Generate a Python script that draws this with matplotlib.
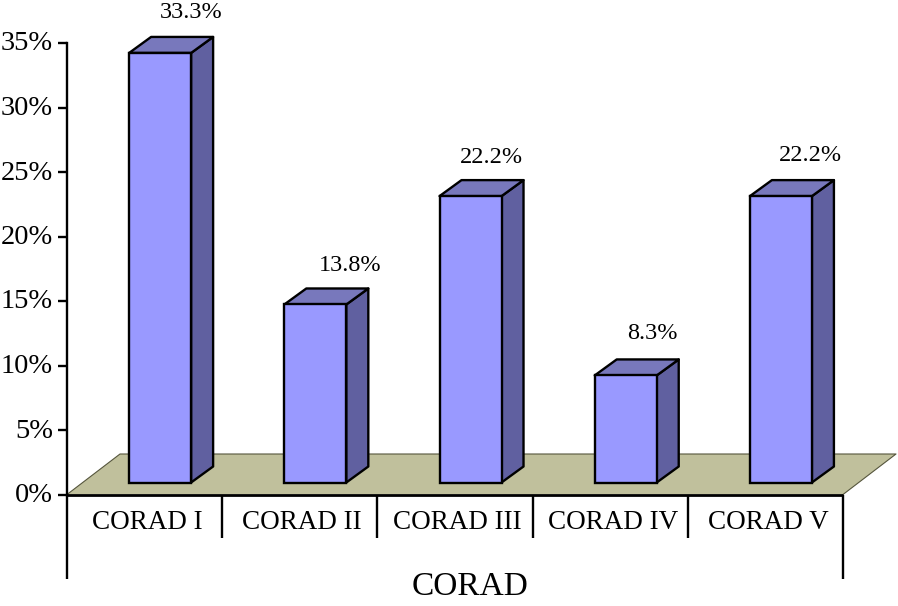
import matplotlib
matplotlib.use("Agg")
import matplotlib.pyplot as plt
from matplotlib.patches import Polygon, Rectangle
from matplotlib.transforms import ScaledTranslation

plt.rcParams['font.family'] = ['Liberation Serif', 'DejaVu Serif']

categories = ["CORAD I", "CORAD II", "CORAD III", "CORAD IV", "CORAD V"]
values = [33.3, 13.8, 22.2, 8.3, 22.2]
value_labels = ["33.3%", "13.8%", "22.2%", "8.3%", "22.2%"]
y_ticks = [0, 5, 10, 15, 20, 25, 30, 35]
axis_title = "CORAD"

W, H = 898, 606
X0, X1 = 67, 843
Y0, Y35 = 494.5, 43
PX = (X1 - X0) / 5.0          # pixels per category
PY = (Y0 - Y35) / 35.0        # pixels per percent
AH = Y0 - Y35

FRONT = "#9999ff"
SIDE = "#6060a0"
TOP = "#7878bc"
FLOOR = "#c0c09c"
LW = 1.7

fig = plt.figure(figsize=(W / 100, H / 100), dpi=100)
ax = fig.add_axes([X0 / W, 1 - Y0 / H, (X1 - X0) / W, AH / H])
ax.set_xlim(-0.5, 4.5)
ax.set_ylim(0, 35)
ax.patch.set_visible(False)
for s in ["top", "right", "bottom"]:
    ax.spines[s].set_visible(False)
ax.spines["left"].set_linewidth(LW)
ax.set_xticks([])
ax.set_yticks(y_ticks)
ax.set_yticklabels([f"{t}%" for t in y_ticks], fontsize=20.5)
ax.tick_params(axis="y", length=6.5, width=LW, pad=3.5)
# labels sit a little above their ticks
lift = ScaledTranslation(0, 2 / 100, fig.dpi_scale_trans)
for lab in ax.get_yticklabels():
    lab.set_transform(lab.get_transform() + lift)

# floor
fx, fy = 53 / PX, 40.5 / PY
ax.add_patch(Polygon([(-0.5, 0), (4.5, 0), (4.5 + fx, fy), (-0.5 + fx, fy)],
                     closed=True, fc=FLOOR, ec="none", clip_on=False, zorder=1))
ax.plot([-0.5, -0.5 + fx, 4.5 + fx, 4.5], [0, fy, fy, 0], color="#55553c", lw=0.8,
        clip_on=False, zorder=1.1)

# bars
bw = 62 / PX
dx, dy = 22 / PX, 16 / PY
base = 12 / PY
off = 0.1
# hand placed label offsets, the labels don't sit evenly over the bars
label_dx = [31, 35, 21, 27, 30]
label_dy = [40, 39, 39, 42, 41]
trans = ax.get_xaxis_transform()
for i, v in enumerate(values):
    l = i + off - bw / 2
    r = l + bw
    t = base + v
    ax.add_patch(Polygon([(r, base), (r + dx, base + dy), (r + dx, t + dy), (r, t)],
                         closed=True, fc=SIDE, ec="black", lw=LW, joinstyle="round", clip_on=False, zorder=3))
    ax.add_patch(Polygon([(l, t), (r, t), (r + dx, t + dy), (l + dx, t + dy)],
                         closed=True, fc=TOP, ec="black", lw=LW, joinstyle="round", clip_on=False, zorder=3))
    ax.add_patch(Rectangle((l, base), bw, v, fc=FRONT, ec="black", lw=LW, clip_on=False, zorder=4))
    ax.annotate(value_labels[i], (l + bw / 2, t), xytext=(label_dx[i], label_dy[i]),
                textcoords="offset pixels", ha="center", va="center", fontsize=17.5,
                annotation_clip=False)
    ax.text(i + 2.5 / PX, -28 / AH, categories[i], transform=trans, ha="center", va="center",
            fontsize=19.5, clip_on=False)

# category axis with separators below the floor
ax.plot([-0.5, 4.5], [0, 0], color="black", lw=2, clip_on=False, zorder=5, solid_capstyle="butt")
for i in range(6):
    low = -84 / AH if i in (0, 5) else -43 / AH
    ax.plot([i - 0.5, i - 0.5], [low, 0], color="black", lw=LW, transform=trans,
            clip_on=False, zorder=5, solid_capstyle="butt")

ax.text(2.1, -92 / AH, axis_title, transform=trans, ha="center", va="center", fontsize=24)

fig.savefig("out.png", dpi=100)
